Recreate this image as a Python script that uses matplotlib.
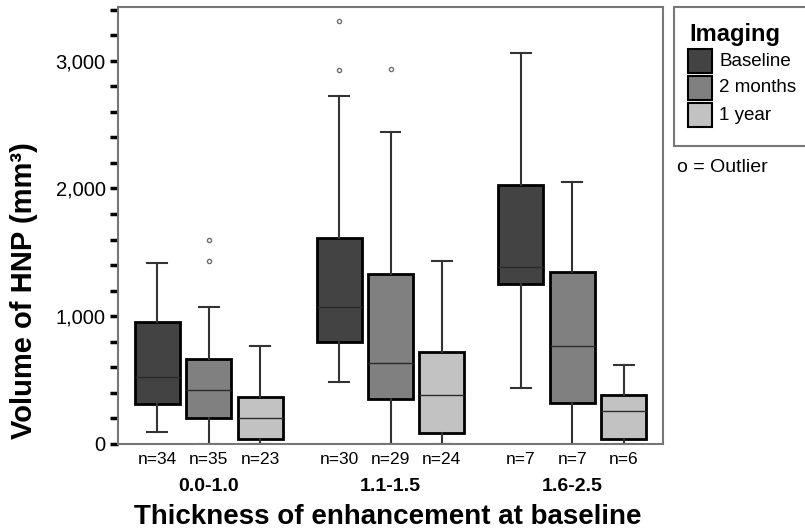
import matplotlib
matplotlib.use('Agg')
import matplotlib.pyplot as plt
from matplotlib.patches import Rectangle
from matplotlib.ticker import MultipleLocator, FuncFormatter
import matplotlib.transforms as mtransforms

plt.rcParams['font.family'] = ['Liberation Sans', 'DejaVu Sans']

groups = ['0.0-1.0', '1.1-1.5', '1.6-2.5']
series = ['Baseline', '2 months', '1 year']
colors = ['#434343', '#808080', '#c2c2c2']

# box statistics per series, one value per thickness group
whislo = [[94, 486, 439], [0, 0, 0], [0, 0, 0]]
q1 = [[313, 799, 1253], [204, 352, 321], [39, 86, 39]]
med = [[525, 1073, 1386], [423, 634, 767], [204, 384, 258]]
q3 = [[955, 1613, 2028], [666, 1331, 1347], [368, 720, 384]]
whishi = [[1417, 2725, 3062], [1073, 2443, 2052], [767, 1433, 619]]
fliers = [[[], [2929, 3313], []], [[1433, 1597], [2937], []], [[], [], []]]
counts = [[34, 30, 7], [35, 29, 7], [23, 24, 6]]

fig = plt.figure(figsize=(8.05, 5.30), dpi=100)
ax = fig.add_axes([0.1466, 0.1623, 0.677, 0.8245])

offsets = [-0.283, 0.0, 0.283]
positions, nlabels = [], []
for j, name in enumerate(series):
    stats = []
    pos = []
    for i in range(len(groups)):
        stats.append(dict(whislo=whislo[j][i], q1=q1[j][i], med=med[j][i],
                          q3=q3[j][i], whishi=whishi[j][i], fliers=fliers[j][i]))
        pos.append(i + 1 + offsets[j])
        positions.append(i + 1 + offsets[j])
        nlabels.append(f'n={counts[j][i]}')
    ax.bxp(stats, positions=pos, widths=0.247, capwidths=0.11,
           patch_artist=True, manage_ticks=False,
           boxprops=dict(facecolor=colors[j], edgecolor='black', linewidth=2.0),
           medianprops=dict(color='#2a2a2a', linewidth=1.0),
           whiskerprops=dict(color='#333333', linewidth=1.5),
           capprops=dict(color='#333333', linewidth=1.5),
           flierprops=dict(marker='o', markersize=3, markerfacecolor='none',
                           markeredgecolor='#707070', markeredgewidth=1.0))

ax.set_xlim(0.5, 3.5)
ax.set_ylim(0, 3420)

ax.set_xticks(positions)
ax.set_xticklabels(nlabels, fontsize=12.5)
ax.tick_params(axis='x', length=0, pad=6)

ax.yaxis.set_major_locator(MultipleLocator(1000))
ax.yaxis.set_minor_locator(MultipleLocator(200))
ax.yaxis.set_major_formatter(FuncFormatter(lambda v, p: f'{int(v):,}'))
ax.tick_params(axis='y', which='both', direction='out', length=6, width=2.5,
               color='black', labelsize=14.5, pad=3)

for side in ['left', 'right', 'top', 'bottom']:
    ax.spines[side].set_color('#777777')
    ax.spines[side].set_linewidth(1.5)

trans = mtransforms.blended_transform_factory(ax.transData, ax.transAxes)
for i, g in enumerate(groups):
    ax.text(i + 1, -0.098, g, transform=trans, ha='center', va='center',
            fontsize=14, fontweight='bold')

ax.set_xlabel('Thickness of enhancement at baseline', fontsize=20,
              fontweight='bold')
ax.xaxis.set_label_coords(0.495, -0.166, transform=ax.transAxes)
ax.xaxis.label.set_va('center')
ax.set_ylabel('Volume of HNP (mm³)', fontsize=21, fontweight='bold')
ax.yaxis.set_label_coords(-0.172, 0.35, transform=ax.transAxes)
ax.yaxis.label.set_va('center')

# legend box on the right
fig.add_artist(Rectangle((674 / 805, 1 - 146 / 530), 0.2, 139 / 530,
                         transform=fig.transFigure, facecolor='white',
                         edgecolor='#777777', linewidth=1.5))
fig.text(689 / 805, 1 - 35 / 530, 'Imaging', fontsize=17, fontweight='bold',
         va='center', ha='left')
for k, (name, c) in enumerate(zip(series, colors)):
    yc = 61 + k * 27
    fig.add_artist(Rectangle((688 / 805, 1 - (yc + 12) / 530), 24 / 805, 24 / 530,
                             transform=fig.transFigure, facecolor=c,
                             edgecolor='black', linewidth=1.5))
    fig.text(719 / 805, 1 - yc / 530, name, fontsize=13.5, va='center', ha='left')
fig.text(677 / 805, 1 - 168 / 530, 'o = Outlier', fontsize=14,
         va='center', ha='left')

fig.savefig('out.png', dpi=100)
